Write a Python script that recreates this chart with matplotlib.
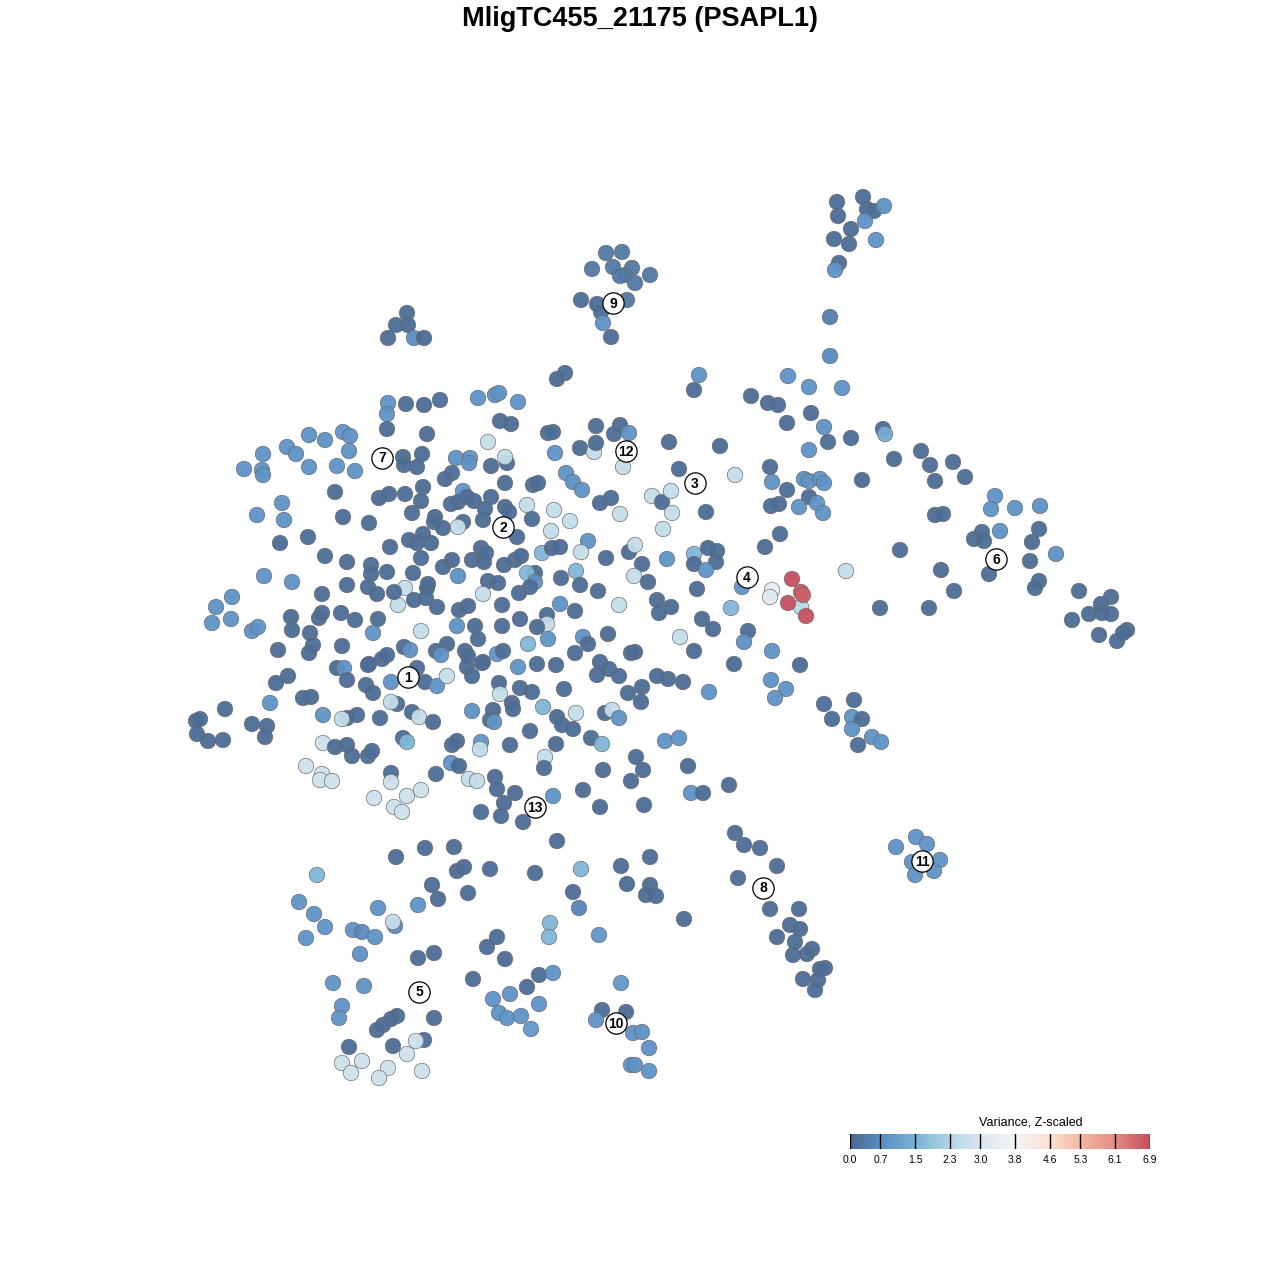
import numpy as np
import matplotlib
matplotlib.use("Agg")
import matplotlib.pyplot as plt
from matplotlib.colors import LinearSegmentedColormap, Normalize

plt.rcParams['font.family'] = ['Liberation Sans', 'DejaVu Sans']

title = "MligTC455_21175 (PSAPL1)"
legend_title = "Variance, Z-scaled"
cbar_ticks = [0.0, 0.7, 1.5, 2.3, 3.0, 3.8, 4.6, 5.3, 6.1, 6.9]
cbar_tick_labels = ["0.0", "0.7", "1.5", "2.3", "3.0", "3.8", "4.6", "5.3", "6.1", "6.9"]
cbar_colors = ['#4a6890', '#5b8fc4', '#79b2d6', '#b4d5e6', '#d9e7f0',
               '#f5f5f5', '#fbe0d2', '#f4b8a0', '#e28d84', '#c7505f']

# cells: (x, y, z-scaled variance), y measured downward
top_right = [(837,202,0.1),(863,197,0.1),(867,209,0.1),(874,211,0.1),(884,206,0.8),(838,216,0.1),
             (865,221,0.8),(851,229,0.1),(834,239,0.1),(849,244,0.1),(876,240,0.8),(839,263,0.1),
             (835,270,0.8),(830,317,0.4),(830,356,0.6)]
cluster9 = [(606,253,0.3),(622,252,0.3),(592,269,0.3),(613,267,0.3),(632,268,0.3),(625,275,0.3),
            (620,276,0.3),(650,275,0.3),(635,283,0.3),(581,300,0.1),(597,304,0.1),(627,300,0.3),
            (601,312,0.1),(603,323,0.8),(611,337,0.1)]
cluster_tl = [(407,313,0.1),(396,325,0.1),(408,325,0.1),(388,338,0.1),(414,338,0.7),(424,338,0.1)]
upper_central = [(565,373,0.1),(557,379,0.1),(699,375,0.8),(694,390,0.1),(388,403,0.8),(406,404,0.1),
                 (424,405,0.1),(440,400,0.1),(478,398,0.8),(495,395,0.8),(499,393,0.8),(518,402,0.8),
                 (387,414,0.8),(387,429,0.1),(427,434,0.1),(500,421,0.1),(511,424,0.1),(488,442,2.6),
                 (548,433,0.1),(553,432,0.1),(596,426,0.1),(620,425,0.1),(614,434,0.1),(629,433,0.8),
                 (669,442,0.1),(720,446,0.1),(555,453,0.8),(580,448,0.1),(594,452,2.6),(596,443,0.1),
                 (623,467,2.6)]
right_upper = [(788,376,0.8),(809,387,0.8),(842,388,0.8),(751,396,0.1),(768,403,0.1),(778,405,0.1),
               (811,413,0.1),(787,423,0.1),(824,427,0.8),(828,442,0.1),(809,450,0.8),(851,438,0.1),
               (883,429,0.1),(885,434,1.4),(894,459,0.1),(921,451,0.1),(930,465,0.1),(953,462,0.1),
               (965,477,0.1),(935,481,0.1),(862,480,0.1),(770,467,0.1),(772,482,0.8),(787,490,0.1),
               (804,479,0.8),(809,481,0.8),(820,479,0.8),(824,483,0.8),(809,497,0.1),(817,503,0.8),
               (823,513,0.8),(799,507,0.8),(779,504,0.1),(771,506,0.1),(735,475,2.6),(679,469,0.1),
               (780,534,0.1),(765,547,0.1)]
cluster6_arm = [(900,550,0.1),(935,515,0.1),(943,514,0.1),(995,496,0.8),(991,509,0.8),(1015,508,0.8),
                (1040,506,0.8),(982,532,0.1),(974,539,0.1),(984,541,0.1),(1000,531,0.8),(1039,529,0.1),
                (1032,542,0.1),(1056,554,0.8),(1030,561,0.1),(989,574,0.1),(941,570,0.1),(954,591,0.1),
                (1039,581,0.1),(1035,588,0.1),(1079,591,0.1),(1111,597,0.1),(1101,604,0.1),(1089,614,0.1),
                (1102,613,0.1),(1111,614,0.1),(1072,620,0.1),(1099,635,0.1),(1117,641,0.1),(1127,630,0.1),
                (1123,633,0.1),(880,608,0.1),(929,608,0.1)]
cluster4 = [(846,571,2.6),(772,590,3.4),(770,597,3.2),(801,607,2.4),(792,579,6.9),(801,592,6.8),
            (803,595,6.7),(788,603,6.9),(806,616,6.9),(742,587,0.8),(731,608,1.6),(748,631,0.1),
            (744,642,0.8),(772,651,0.8)]
center_right = [(652,496,2.6),(662,502,0.1),(671,491,2.6),(672,513,2.6),(663,529,2.6),(706,512,0.1),
                (694,554,1.6),(694,564,0.1),(708,548,0.1),(717,551,0.1),(716,562,0.1),(706,570,0.8),
                (697,589,0.1),(667,559,0.8),(642,564,0.1),(634,576,2.6),(648,582,0.1),(657,600,0.1),
                (671,607,0.1),(659,613,0.1),(680,637,2.6),(702,619,0.1),(713,629,0.1),(694,651,0.1),
                (734,664,0.1),(800,665,0.1),(771,680,0.8),(786,689,0.8),(775,698,0.8),(709,692,0.8),
                (683,682,0.1),(668,679,0.1),(657,676,0.1),(642,687,0.1),(641,702,0.1),(628,693,0.1),
                (631,653,0.1),(635,652,0.1)]
center = [(566,473,0.8),(573,482,0.8),(582,490,0.8),(533,485,0.1),(538,483,0.1),(527,505,2.6),
          (532,519,0.1),(554,510,2.6),(570,521,2.6),(551,531,2.6),(600,503,0.1),(611,498,0.1),
          (620,514,2.6),(517,537,0.1),(542,553,1.6),(552,548,0.1),(560,547,0.1),(588,541,0.8),
          (581,552,2.6),(606,558,0.1),(629,552,0.1),(635,545,2.6),(535,573,0.1),(527,573,1.6),
          (535,582,0.8),(530,587,0.1),(519,593,0.1),(561,578,0.1),(576,571,1.6),(580,585,0.1),
          (598,591,0.1),(619,605,2.6),(575,611,0.1),(560,604,0.8),(547,615,0.1),(547,624,2.6),
          (537,627,0.1),(520,619,0.1),(528,644,1.6),(548,639,0.8),(583,637,0.8),(588,644,0.1),
          (575,653,0.1),(608,634,0.1),(600,662,0.1),(609,669,0.1),(597,675,0.1),(619,676,0.1),
          (556,665,0.1),(537,664,0.1)]
center_left = [(403,457,0.1),(404,465,0.1),(417,467,0.1),(422,454,0.1),(456,458,0.8),(470,458,0.8),
               (469,463,0.8),(507,463,0.1),(505,457,2.6),(491,466,0.1),(452,473,0.1),(445,479,0.1),
               (379,498,0.1),(389,494,0.1),(405,494,0.1),(423,487,0.1),(421,501,0.1),(463,491,0.8),
               (458,502,0.1),(451,504,0.1),(467,497,0.1),(474,501,0.1),(485,509,0.1),(491,497,0.1),
               (505,507,0.1),(509,512,0.1),(505,483,0.1),(412,513,0.1),(435,517,0.1),(434,522,0.1),
               (443,528,0.1),(463,522,0.1),(458,527,2.6),(483,520,0.1),(390,547,0.1),(409,540,0.1),
               (417,543,0.1),(423,534,0.1),(431,543,0.1),(421,558,0.1),(413,573,0.1),(443,567,0.1),
               (452,560,0.1),(458,576,0.8),(472,560,0.1),(481,548,0.1),(484,562,0.1),(486,553,0.1),
               (504,565,0.1),(515,560,0.1),(521,556,0.1),(488,581,0.1),(498,583,0.1),(483,594,2.6),
               (502,605,0.1),(405,588,2.6),(398,605,2.6),(394,592,0.1),(427,588,0.1),(426,598,0.1),
               (428,584,0.1),(414,600,0.1),(437,607,0.1),(459,610,0.1),(468,606,0.1),(475,626,0.1),
               (478,639,0.1),(465,651,0.1),(468,656,0.1),(483,662,0.1),(502,626,0.1),(497,654,0.8),
               (503,651,0.1),(457,626,0.8),(447,644,0.1),(436,651,0.1),(441,655,0.8),(404,647,0.1),
               (410,650,0.8),(421,631,2.6),(518,667,0.8),(467,667,0.1),(482,663,0.1)]
left = [(309,435,0.8),(325,440,0.8),(343,432,0.8),(350,436,0.8),(263,454,0.8),(287,447,0.8),
        (296,454,0.8),(309,467,0.8),(337,466,0.8),(349,451,0.8),(355,471,0.8),(244,469,0.8),
        (262,470,0.8),(263,475,0.8),(335,492,0.1),(282,503,0.8),(257,515,0.8),(284,520,0.8),
        (343,517,0.1),(369,523,0.1),(280,543,0.1),(308,537,0.1),(325,556,0.1),(347,562,0.1),
        (371,565,0.1),(371,574,0.1),(387,572,0.1),(264,576,0.8),(292,582,0.8),(347,585,0.1),
        (368,587,0.1),(377,594,0.1),(322,594,0.1),(232,597,0.8),(216,607,0.8),(212,623,0.8),
        (231,619,0.8),(252,631,0.8),(258,627,0.8),(291,617,0.1),(292,630,0.1),(310,633,0.1),
        (319,618,0.1),(322,613,0.1),(313,645,0.1),(309,653,0.1),(278,650,0.1),(341,613,0.1),
        (355,620,0.1),(378,619,0.1),(373,633,0.8),(342,646,0.1),(369,664,0.1),(382,659,0.1),
        (387,655,0.1)]
lower_left = [(337,668,0.1),(344,668,0.8),(368,665,0.1),(391,682,0.8),(417,668,0.1),(425,682,0.1),
              (437,686,0.8),(447,676,2.6),(472,676,0.1),(499,683,0.1),(500,694,2.6),(520,688,0.1),
              (532,692,0.1),(512,703,0.1),(513,709,0.1),(493,710,0.1),(472,711,0.8),(490,720,0.1),
              (494,722,0.8),(543,707,1.6),(530,731,0.1),(510,745,0.1),(481,742,0.8),(480,749,2.6),
              (457,741,0.1),(452,745,0.1),(451,763,0.8),(459,766,0.1),(436,774,0.1),(469,779,2.6),
              (477,781,2.6),(495,777,0.1),(497,789,0.1),(515,793,0.1),(504,803,0.1),(481,812,0.1),
              (501,816,0.1),(523,822,0.1),(425,848,0.1),(454,847,0.1),(396,857,0.1),(557,841,0.1),
              (288,676,0.1),(276,683,0.1),(225,709,0.1),(270,703,0.8),(252,724,0.1),(267,726,0.1),
              (265,737,0.1),(200,719,0.1),(196,721,0.1),(197,734,0.1),(208,741,0.1),(223,740,0.1),
              (303,698,0.1),(311,697,0.1),(323,715,0.8),(347,718,0.1),(342,719,2.6),(357,715,0.1),
              (380,718,0.1),(397,704,0.1),(391,702,2.6),(412,712,0.1),(419,717,2.6),(433,722,0.1),
              (403,738,0.1),(407,742,1.6),(323,743,2.8),(335,747,0.1),(347,745,0.1),(352,756,0.1),
              (368,756,0.1),(372,751,0.1),(306,766,2.8),(322,774,2.8),(320,780,2.8),(332,781,2.8),
              (391,773,0.1),(391,782,2.8),(374,798,2.8),(407,796,2.8),(421,790,2.8),(394,807,2.8),
              (402,812,2.8),(366,685,0.1),(373,693,0.1),(347,680,0.1)]
mid_lower = [(564,689,0.1),(557,717,0.1),(562,725,0.1),(573,729,0.1),(576,713,2.6),(605,713,0.1),
             (612,710,2.6),(619,718,0.8),(591,738,0.1),(602,744,1.6),(556,744,0.1),(545,757,2.6),
             (544,768,0.1),(636,757,0.1),(643,770,0.1),(603,770,0.1),(665,741,0.8),(679,738,0.8),
             (688,766,0.1),(631,781,0.1),(583,790,0.1),(553,796,0.8),(600,807,0.1),(644,805,0.1),
             (691,793,0.8),(703,793,0.1),(729,785,0.1)]
right_mid = [(824,704,0.1),(854,700,0.1),(832,719,0.1),(852,717,0.8),(862,719,0.1),(852,729,0.8),
             (858,745,0.1),(872,737,0.8),(881,742,0.8)]
cluster8 = [(735,833,0.1),(744,845,0.1),(760,848,0.1),(777,866,0.1),(738,878,0.1),(770,909,0.1),
            (799,909,0.1),(790,925,0.1),(800,929,0.1),(777,937,0.1),(795,942,0.1),(812,949,0.1),
            (807,954,0.1),(793,955,0.1),(820,969,0.1),(825,968,0.1),(818,980,0.1),(803,979,0.1),
            (815,990,0.1)]
cluster11 = [(916,837,0.8),(896,847,0.8),(927,844,0.8),(940,860,0.8),(912,862,0.8),(934,871,0.8),
             (915,875,0.8)]
bottom = [(317,875,1.6),(299,902,0.8),(314,914,0.8),(325,927,0.8),(306,938,0.8),(353,930,0.8),
          (362,932,0.6),(375,937,0.8),(395,926,0.6),(393,922,2.6),(360,954,0.8),(378,908,0.8),
          (418,905,0.8),(432,885,0.1),(438,899,0.1),(468,893,0.1),(457,871,0.1),(464,867,0.1),
          (490,869,0.1),(535,873,0.1),(581,869,1.6),(621,866,0.1),(650,857,0.1),(627,884,0.1),
          (650,885,0.1),(646,895,0.1),(656,896,0.1),(573,892,0.1),(579,908,0.5),(684,919,0.1),
          (497,937,0.1),(487,947,0.1),(505,959,0.1),(550,923,1.6),(549,937,1.6),(599,935,0.9),
          (434,953,0.1),(418,958,0.1),(473,979,0.1),(539,975,0.1),(553,973,0.8),(527,987,0.1),
          (510,994,0.8),(493,999,0.8),(499,1013,0.8),(507,1018,0.8),(521,1016,0.8),(539,1004,0.8),
          (531,1029,0.9),(333,983,0.8),(364,986,0.8),(342,1006,0.8),(339,1018,0.8),(397,1016,0.1),
          (391,1019,0.1),(383,1025,0.1),(377,1030,0.1),(434,1018,0.1),(349,1047,0.1),(393,1046,0.1),
          (424,1040,0.1),(416,1041,2.8),(407,1054,2.8),(342,1063,2.8),(362,1061,2.8),(351,1073,2.8),
          (388,1068,2.8),(379,1078,2.8),(422,1071,2.8)]
cluster10 = [(621,983,0.9),(602,1010,0.1),(626,1012,0.1),(596,1020,0.8),(633,1033,0.8),(642,1032,0.8),
             (649,1048,0.8),(631,1065,0.8),(635,1065,0.8),(649,1071,0.8)]

cluster_ids = ["1", "2", "3", "4", "5", "6", "7", "8", "9", "10", "11", "12", "13"]
cluster_x = [408, 503, 695, 747, 419, 996, 382, 763, 613, 616, 922, 626, 535]
cluster_y = [677, 527, 483, 577, 992, 559, 458, 888, 303, 1023, 861, 451, 807]

regions = [top_right, cluster9, cluster_tl, upper_central, right_upper, cluster6_arm,
           center_right, center, center_left, left, lower_left, mid_lower, right_mid,
           cluster8, cluster11, bottom, cluster10, cluster4]
cells = np.array([p for r in regions for p in r], dtype=float)
xs, ys, vs = cells[:, 0], cells[:, 1], cells[:, 2]

vmin, vmax = cbar_ticks[0], cbar_ticks[-1]
cmap = LinearSegmentedColormap.from_list(
    "var", list(zip([(t - vmin) / (vmax - vmin) for t in cbar_ticks], cbar_colors)))
norm = Normalize(vmin, vmax)

fig = plt.figure(figsize=(12.8, 12.8), dpi=100)
ax = fig.add_axes([0, 0, 1, 1])
ax.set_xlim(0, 1280)
ax.set_ylim(1280, 0)
ax.axis('off')

ax.scatter(xs, ys, c=vs, cmap=cmap, norm=norm, s=125, alpha=0.95,
           edgecolors='#6a6a6a', linewidths=0.5, zorder=2)
ax.scatter(cluster_x, cluster_y, s=235, facecolor='white', edgecolors='black',
           linewidths=0.9, zorder=3)
for lab, cx, cy in zip(cluster_ids, cluster_x, cluster_y):
    ax.text(cx, cy + 0.5, lab, ha='center', va='center', fontsize=10,
            fontweight='bold', color='black', zorder=4)

ax.text(640, 19, title, ha='center', va='center', fontsize=19.5, fontweight='bold')

# colour bar
cax = fig.add_axes([850 / 1280, (1280 - 1149) / 1280, 300 / 1280, 15 / 1280])
grad = np.linspace(vmin, vmax, 512)[None, :]
cax.imshow(grad, aspect='auto', cmap=cmap, norm=norm, extent=[vmin, vmax, 0, 1])
cax.set_xlim(vmin, vmax)
cax.set_ylim(0, 1)
for t in cbar_ticks:
    cax.axvline(t, color='black', lw=1.0)
for s in cax.spines.values():
    s.set_visible(False)
cax.set_yticks([])
cax.set_xticks(cbar_ticks)
cax.set_xticklabels(cbar_tick_labels, fontsize=7.5)
cax.tick_params(axis='x', length=0, pad=4)
fig.text(1031 / 1280, 1 - 1122.5 / 1280, legend_title, ha='center', va='center', fontsize=9)

fig.savefig("out.png", dpi=100, facecolor='white')
